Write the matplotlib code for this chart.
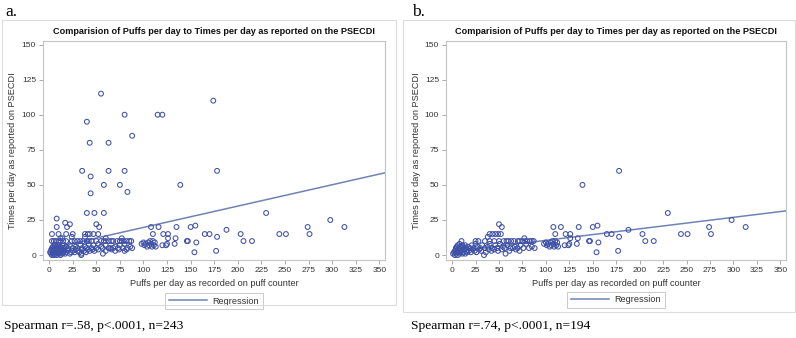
import matplotlib.pyplot as plt
from matplotlib.patches import Rectangle

# (puffs per day, times per day)
points_a = [
    (55,115),(80,100),(115,100),(120,100),(174,110),(40,95),(88,85),(43,80),(63,80),
    (35,60),(63,60),(80,60),(178,60),(44,56),(58,50),(75,50),(139,50),(83,45),(44,44),
    (40,30),(48,30),(58,30),(230,30),(298,25),(8,26),
    (17,23),(22,22),(50,22),(8,20),(19,20),(53,20),(108,20),(116,20),(135,20),(150,20),
    (155,21),(274,20),(313,20),(188,18),
    (3,15),(10,15),(18,15),(25,15),(38,15),(41,15),(43,15),(47,15),(52,15),(110,15),
    (121,15),(126,15),(165,15),(170,15),(203,15),(244,15),(251,15),(276,15),
    (12,12),(14,12),(38,13),(60,12),(77,12),(126,12),(134,12),(178,13),(24,13),
    (3,10),(5,10),(7,10),(10,10),(12,10),(15,10),(18,10),(24,10),(27,10),(30,10),(33,10),
    (36,10),(40,10),(42,10),(45,10),(50,10),(55,10),(58,10),(60,10),(63,10),(66,10),
    (68,10),(72,10),(75,10),(77,10),(79,10),(82,10),(85,10),(87,10),(107,10),(110,10),
    (146,10),(147,10),(206,10),(215,10),(100,9),(105,9),(112,9),(156,9),(102,8),(108,8),
    (133,8),(98,8),
    (3,5),(4,6),(5,5),(6,7),(7,5),(8,6),(9,5),(10,7),(11,5),(12,6),(13,5),(14,7),(16,5),
    (18,6),(20,5),(22,7),(25,5),(28,6),(30,5),(33,7),(35,5),(38,6),(40,5),(42,8),(45,5),
    (47,7),(50,5),(52,8),(55,6),(57,5),(60,7),(63,5),(65,5),(68,5),(70,6),(73,5),(75,7),
    (78,5),(80,8),(83,5),(86,6),(88,5),(101,7),(104,6),(106,7),(109,6),(111,7),(113,6),
    (120,7),(124,7),(125,8),
    (1,2),(2,3),(2,1),(3,0),(3,4),(4,2),(4,1),(5,3),(5,0),(6,2),(6,4),(7,1),(7,3),(8,2),
    (8,0),(9,4),(9,1),(10,3),(10,2),(11,1),(11,4),(12,2),(12,0),(13,3),(14,1),(14,4),
    (15,2),(16,3),(17,1),(18,2),(19,4),(20,3),(22,1),(23,2),(25,3),(27,2),(28,4),(30,3),
    (32,2),(34,0),(35,4),(37,3),(39,2),(41,4),(43,3),(46,4),(48,3),(52,4),(57,1),(60,3),
    (66,4),(70,3),(74,4),(80,3),(82,4),(154,2),(177,3),(34,1),
]

points_b = [
    (139,50),(178,60),(230,30),(298,25),
    (50,22),(53,20),(108,20),(116,20),(135,20),(150,20),(155,21),(274,20),(313,20),(188,18),
    (40,15),(43,15),(46,15),(49,15),(52,15),(110,15),(121,15),(126,15),(165,15),(170,15),
    (203,15),(244,15),(251,15),(276,15),
    (38,13),(77,12),(126,12),(134,12),(178,13),
    (10,10),(25,10),(28,10),(35,10),(40,10),(45,10),(50,10),(55,10),(58,10),(60,10),
    (63,10),(66,10),(70,10),(72,10),(75,10),(78,10),(80,10),(83,10),(85,10),(87,10),
    (107,10),(110,10),(146,10),(147,10),(206,10),(215,10),(100,9),(105,9),(112,9),(156,9),
    (102,8),(108,8),(133,8),(98,8),
    (4,5),(5,6),(6,7),(7,5),(8,8),(9,6),(10,5),(11,7),(12,6),(13,5),(14,7),(15,5),(17,6),
    (19,5),(21,7),(23,5),(25,8),(27,6),(30,5),(32,7),(35,5),(38,6),(40,8),(43,5),(46,7),
    (48,5),(51,8),(54,6),(56,5),(59,7),(62,5),(65,5),(67,6),(70,5),(73,7),(76,5),(79,8),
    (82,5),(85,6),(88,5),(101,7),(104,6),(106,7),(109,6),(111,7),(113,6),(120,7),(124,7),
    (125,8),
    (1,1),(2,2),(3,0),(3,3),(4,1),(4,4),(5,2),(6,0),(6,3),(7,2),(8,1),(8,4),(9,2),(10,3),
    (11,1),(12,2),(13,4),(14,1),(15,3),(16,2),(18,3),(20,2),(22,4),(24,3),(26,2),(29,4),
    (31,3),(34,0),(36,2),(39,4),(42,3),(45,4),(49,3),(53,4),(57,1),(61,3),(68,4),(72,3),
    (154,2),(177,3),
]

# fitted regression lines (intercept, slope)
reg_a = (4.5, 0.152)
reg_b = (2.3, 0.082)

panel_labels = ["a.", "b."]
captions = ["Spearman r=.58, p<.0001, n=243", "Spearman r=.74, p<.0001, n=194"]
title = "Comparision of Puffs per day to Times per day as reported on the PSECDI"
xlab = "Puffs per day as recorded on puff counter"
ylab = "Times per day as reported on PSECDI"
xticks = list(range(0, 351, 25))
yticks = list(range(0, 151, 25))

W, H = 796, 338
mk_col = "#3f51a6"
ln_col = "#6f83b3"
frame_col = "#c4c4c4"
txt_col = "#333333"
sans = "Liberation Sans"
serif = "Liberation Serif"

fig = plt.figure(figsize=(W/100, H/100), dpi=100)

def fx(px):
    return px / W

def fy(py):
    return 1 - py / H

# pixel positions for each panel
layout = [
    dict(box=(2, 20, 396, 305), ax=(43, 385, 41, 260), lab=5, cap=4, leg=301),
    dict(box=(403, 20, 795, 312), ax=(446, 786, 41, 260), lab=412, cap=411, leg=300),
]

for i, pts in enumerate([points_a, points_b]):
    L = layout[i]
    bx0, by0, bx1, by1 = L["box"]
    fig.patches.append(Rectangle((fx(bx0), fy(by1)), fx(bx1 - bx0), (by1 - by0) / H,
                                 transform=fig.transFigure, fill=False,
                                 edgecolor="#dcdcdc", lw=0.8))
    l, r, t, b = L["ax"]
    ax = fig.add_axes([fx(l), fy(b), fx(r - l), (b - t) / H])

    xs = [p[0] for p in pts]
    ys = [p[1] for p in pts]
    ax.scatter(xs, ys, s=12, facecolors="none", edgecolors=mk_col, linewidths=0.75, zorder=3)

    icpt, slope = [reg_a, reg_b][i]
    lx = [0, 357]
    ax.plot(lx, [icpt + slope * v for v in lx], color=ln_col, lw=1.1, zorder=2,
            label="Regression")

    ax.set_xlim(-6.5, 356)
    ax.set_ylim(-3.5, 152.5)
    ax.set_xticks(xticks)
    ax.set_yticks(yticks)
    for s in ax.spines.values():
        s.set_color(frame_col)
        s.set_linewidth(0.8)
    ax.tick_params(length=3, width=0.6, color="#9a9a9a", labelsize=6, labelcolor=txt_col,
                   pad=2)
    for lb in ax.get_xticklabels() + ax.get_yticklabels():
        lb.set_fontfamily(sans)

    cx = (l + r) / 2
    fig.text(fx(cx), fy(32), title, ha="center", va="center", fontsize=6.6,
             fontweight="bold", family=sans, color="#111111")
    fig.text(fx(cx), fy(284), xlab, ha="center", va="center", fontsize=6.6,
             family=sans, color=txt_col)
    fig.text(fx(l - 30), fy((t + b) / 2), ylab, ha="center", va="center", rotation=90,
             fontsize=6.6, family=sans, color=txt_col)

    leg = ax.legend(loc="center", bbox_to_anchor=(fx(cx), fy(L["leg"])),
                    bbox_transform=fig.transFigure, frameon=True, fancybox=False,
                    handlelength=4.2, handletextpad=0.6,
                    borderpad=0.35, prop={"family": sans, "size": 6.6})
    leg.get_frame().set_edgecolor("#bdbdbd")
    leg.get_frame().set_linewidth(0.7)
    for tx in leg.get_texts():
        tx.set_color(txt_col)

    fig.text(fx(L["lab"]), fy(12), panel_labels[i], ha="left", va="center",
             fontsize=12.5, family=serif)
    fig.text(fx(L["cap"]), fy(326), captions[i], ha="left", va="center",
             fontsize=9.7, family=serif)

fig.savefig("out.png", dpi=100)
